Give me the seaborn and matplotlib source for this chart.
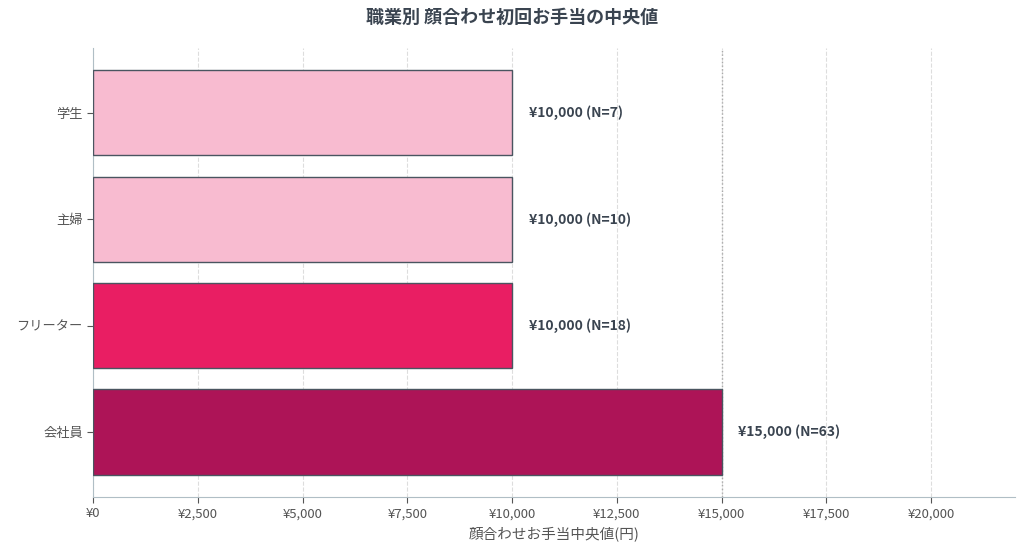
import matplotlib
matplotlib.use("Agg")
import matplotlib.pyplot as plt
import seaborn as sns
import pandas as pd
from matplotlib.ticker import FuncFormatter

categories = ["学生", "主婦", "フリーター", "会社員"]
medians = [10000, 10000, 10000, 15000]
counts = [7, 10, 18, 63]
colors = ["#F8BBD0", "#F8BBD0", "#E91E63", "#AD1457"]

sns.set_style("white")
plt.rcParams['font.family'] = ['Noto Sans CJK JP', 'DejaVu Sans']

df = pd.DataFrame({"cat": categories, "val": medians})
fig = plt.figure(figsize=(10.24, 5.57), dpi=100)
ax = fig.add_axes([0.091, 0.108, 0.9, 0.806])
sns.barplot(data=df, y="cat", x="val", hue="cat", palette=colors, legend=False,
            orient="h", ax=ax, width=0.8, saturation=1, edgecolor="#4a5560",
            linewidth=1, zorder=3)
ax.set_xlim(0, 22000)
ax.set_ylim(3.61, -0.61)
ax.set_xticks(range(0, 20001, 2500))
ax.xaxis.set_major_formatter(FuncFormatter(lambda v, p: f"¥{int(v):,}"))
ax.grid(axis="x", linestyle="--", color="#dddddd", linewidth=0.8, zorder=0)
ax.axvline(15000, color="#aaaaaa", linestyle=":", linewidth=1, zorder=1)
for i, (v, n) in enumerate(zip(medians, counts)):
    ax.text(v + 400, i, f"¥{v:,} (N={n})", va="center", ha="left", fontsize=10,
            fontweight="bold", color="#3a4450")
ax.set_ylabel("")
ax.set_xlabel("顔合わせお手当中央値(円)", fontsize=10.5, color="#555")
ax.tick_params(axis="both", colors="#555", labelsize=9.5, length=4, left=True, bottom=True)
for s in ["top", "right"]:
    ax.spines[s].set_visible(False)
for s in ["left", "bottom"]:
    ax.spines[s].set_color("#b0bec5")
fig.suptitle("職業別 顔合わせ初回お手当の中央値", fontsize=13, fontweight="bold",
             color="#3a4450", y=0.985)
fig.savefig("out.png", dpi=100)
